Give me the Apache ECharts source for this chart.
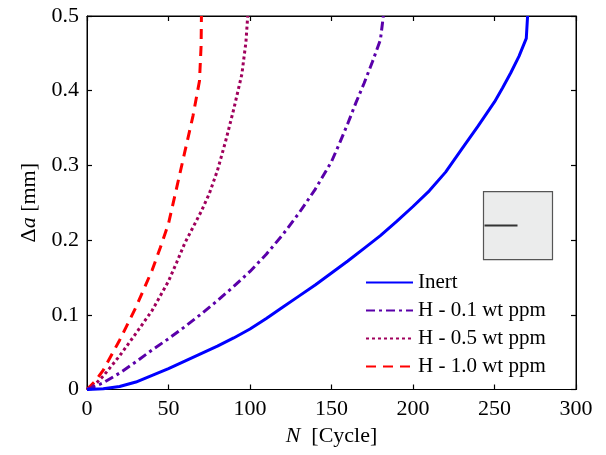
<!DOCTYPE html>
<html>
<head>
<meta charset="utf-8">
<script src="https://cdn.jsdelivr.net/npm/echarts@6/dist/echarts.min.js"></script>
<style>
html,body{margin:0;padding:0;background:#fff;}
#chart{width:606px;height:455px;}
</style>
</head>
<body>
<div id="chart"></div>
<script>
// ---- data ----
var seriesNames = ['Inert', 'H - 0.1 wt ppm', 'H - 0.5 wt ppm', 'H - 1.0 wt ppm'];

var inertN  = [0, 10, 20, 30, 40, 50, 60, 70, 80, 90, 100, 110, 120, 130, 140, 150, 160, 170, 180, 190, 200, 210, 220, 230, 240, 250, 255, 260, 265, 269.5, 270.3];
var inertDa = [0, 0.001, 0.004, 0.01, 0.019, 0.028, 0.038, 0.048, 0.058, 0.069, 0.081, 0.095, 0.11, 0.125, 0.14, 0.156, 0.172, 0.189, 0.206, 0.225, 0.245, 0.266, 0.291, 0.322, 0.353, 0.385, 0.404, 0.424, 0.446, 0.47, 0.5];

var h01N  = [0, 10, 20, 30, 40, 50, 60, 70, 80, 90, 100, 110, 120, 130, 140, 150, 155, 160, 165, 170, 175, 180, 181.8];
var h01Da = [0, 0.009, 0.022, 0.037, 0.053, 0.068, 0.084, 0.101, 0.119, 0.138, 0.158, 0.181, 0.207, 0.236, 0.268, 0.305, 0.33, 0.356, 0.384, 0.41, 0.438, 0.468, 0.5];

var h05N  = [0, 5, 10, 20, 30, 40, 50, 55, 60, 65, 70, 75, 80, 85, 90, 95, 97.5, 98.6];
var h05Da = [0, 0.007, 0.018, 0.045, 0.075, 0.106, 0.145, 0.17, 0.196, 0.217, 0.238, 0.262, 0.293, 0.332, 0.375, 0.422, 0.465, 0.5];

var h10N  = [0, 5, 10, 20, 30, 40, 45, 50, 55, 60, 65, 69, 70, 70.2];
var h10Da = [0, 0.011, 0.026, 0.066, 0.11, 0.16, 0.19, 0.222, 0.27, 0.318, 0.366, 0.413, 0.46, 0.5];

var xTicks = { min: 0, max: 300, interval: 50 };
var yTicks = { min: 0, max: 0.5, interval: 0.1 };

var colors = ['#0000ff', '#5a00aa', '#a0005c', '#ff0000'];
var dashes = ['solid', [9, 4, 3, 4], [3, 3], [10, 7]];

function zip(a, b) { return a.map(function (v, i) { return [v, b[i]]; }); }
var allData = [zip(inertN, inertDa), zip(h01N, h01Da), zip(h05N, h05Da), zip(h10N, h10Da)];

var FONT = "'Liberation Serif', 'Times New Roman', serif";

var chart = echarts.init(document.getElementById('chart'), null, { renderer: 'canvas' });

function axLine() { return { show: true, onZero: false, lineStyle: { color: '#000', width: 1 } }; }
function axTick() { return { show: true, inside: true, length: 5, lineStyle: { color: '#000', width: 1.2, opacity: 1 } }; }

var mainSeries = seriesNames.map(function (n, i) {
  return {
    name: n,
    type: 'line',
    xAxisIndex: 0,
    yAxisIndex: 0,
    data: allData[i],
    symbol: 'none',
    smooth: false,
    z: 10 - i,
    lineStyle: { color: colors[i], width: 3, type: dashes[i] },
    itemStyle: { color: colors[i] }
  };
});

chart.setOption({
  animation: false,
  backgroundColor: '#fff',
  textStyle: { fontFamily: FONT },
  grid: { show: true, borderColor: '#000', borderWidth: 1, backgroundColor: 'transparent',
          left: 87, right: 30, top: 16, bottom: 65.5, containLabel: false },
  legend: {
    orient: 'vertical',
    left: 365,
    top: 272,
    padding: 0,
    itemWidth: 47,
    itemHeight: 14,
    itemGap: 7,
    data: seriesNames,
    itemStyle: { opacity: 0, borderWidth: 0 },
    textStyle: { fontFamily: FONT, fontSize: 21, color: '#000' }
  },
  xAxis: [{
    type: 'value',
    gridIndex: 0,
    position: 'bottom',
    min: xTicks.min, max: xTicks.max, interval: xTicks.interval,
    axisLine: axLine(), axisTick: axTick(),
    splitLine: { show: false },
    axisLabel: { color: '#000', fontFamily: FONT, fontSize: 22, margin: 9 },
    name: '{i|N}  [Cycle]',
    nameLocation: 'middle',
    nameGap: 36,
    nameTextStyle: {
      color: '#000', fontFamily: FONT, fontSize: 22,
      rich: { i: { fontStyle: 'italic', fontFamily: FONT, fontSize: 22, color: '#000' } }
    }
  }, {
    type: 'value',
    gridIndex: 0,
    position: 'top',
    min: xTicks.min, max: xTicks.max, interval: xTicks.interval,
    axisLine: axLine(), axisTick: axTick(),
    axisLabel: { show: true, color: 'rgba(0,0,0,0)', fontSize: 1 }, splitLine: { show: false }
  }],
  yAxis: [{
    type: 'value',
    gridIndex: 0,
    position: 'left',
    min: yTicks.min, max: yTicks.max, interval: yTicks.interval,
    axisLine: axLine(), axisTick: axTick(),
    splitLine: { show: false },
    axisLabel: {
      color: '#000', fontFamily: FONT, fontSize: 22, margin: 8,
      formatter: function (v) { return v === 0 ? '0' : v.toFixed(1); }
    },
    name: '\u0394{i|a} [mm]',
    nameLocation: 'middle',
    nameRotate: 90,
    nameGap: 42,
    nameTextStyle: {
      color: '#000', fontFamily: FONT, fontSize: 22,
      rich: { i: { fontStyle: 'italic', fontFamily: FONT, fontSize: 22, color: '#000' } }
    }
  }, {
    type: 'value',
    gridIndex: 0,
    position: 'right',
    min: yTicks.min, max: yTicks.max, interval: yTicks.interval,
    axisLine: axLine(), axisTick: axTick(),
    axisLabel: { show: true, color: 'rgba(0,0,0,0)', fontSize: 1 }, splitLine: { show: false }
  }],
  series: mainSeries,
  graphic: [{
    type: 'group',
    left: 482,
    top: 191,
    children: [{
      type: 'rect',
      shape: { x: 0, y: 0, width: 69, height: 68 },
      style: { fill: '#ebecec', stroke: '#555', lineWidth: 1.2 }
    }, {
      type: 'line',
      shape: { x1: 1, y1: 34, x2: 34, y2: 34 },
      style: { stroke: '#333', lineWidth: 2 }
    }]
  }]
});
</script>
</body>
</html>
